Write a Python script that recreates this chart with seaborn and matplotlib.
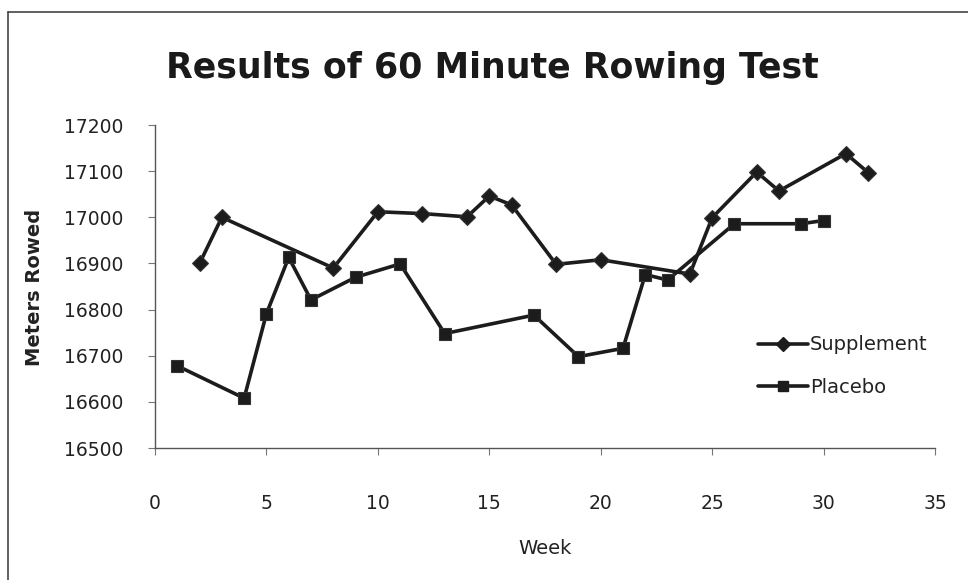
import matplotlib
matplotlib.use("Agg")
import matplotlib.pyplot as plt
import seaborn as sns
import pandas as pd
from matplotlib.lines import Line2D

# Weekly 60-minute rowing distances (meters)
supp_weeks = [2, 3, 8, 10, 12, 14, 15, 16, 18, 20, 24, 25, 27, 28, 31, 32]
supp_meters = [16900, 17000, 16890, 17012, 17008, 17001, 17046, 17027,
               16898, 16908, 16877, 16999, 17098, 17057, 17138, 17097]

plac_weeks = [1, 4, 5, 6, 7, 9, 11, 13, 17, 19, 21, 22, 23, 26, 29, 30]
plac_meters = [16678, 16608, 16791, 16913, 16821, 16870, 16899, 16748,
               16788, 16698, 16716, 16876, 16864, 16986, 16986, 16993]

x_ticks = [0, 5, 10, 15, 20, 25, 30, 35]
y_ticks = [16500, 16600, 16700, 16800, 16900, 17000, 17100, 17200]

df = pd.concat([
    pd.DataFrame({"Week": supp_weeks, "Meters": supp_meters, "Group": "Supplement"}),
    pd.DataFrame({"Week": plac_weeks, "Meters": plac_meters, "Group": "Placebo"}),
])

sns.set_theme(style="white")
plt.rcParams["font.family"] = ["DejaVu Sans"]

ink = "#1c1c1c"
fig = plt.figure(figsize=(9.68, 5.8), dpi=100)
ax = fig.add_axes([155 / 968, 1 - 448 / 580, 780 / 968, 323 / 580])

sns.lineplot(
    data=df, x="Week", y="Meters", hue="Group", style="Group",
    palette={"Supplement": ink, "Placebo": ink},
    markers={"Supplement": "D", "Placebo": "s"},
    dashes=False, linewidth=2.6, markersize=8.5, markeredgewidth=0.8,
    markeredgecolor="#333333", sort=False, legend=False, ax=ax,
)

ax.set_xlim(0, 35)
ax.set_ylim(16500, 17200)
ax.set_xticks(x_ticks)
ax.set_yticks(y_ticks)
ax.set_xticklabels([str(t) for t in x_ticks])
ax.set_yticklabels([str(t) for t in y_ticks])

for side in ("top", "right"):
    ax.spines[side].set_visible(False)
for side in ("left", "bottom"):
    ax.spines[side].set_color("#555555")
    ax.spines[side].set_linewidth(1.0)

ax.tick_params(axis="x", direction="out", length=5, width=0.8, color="#777777",
               pad=28, labelsize=13.5, labelcolor="#222222", bottom=True)
ax.tick_params(axis="y", direction="out", length=5, width=0.8, color="#777777",
               pad=18, labelsize=13.5, labelcolor="#222222", left=True)
ax.grid(False)

ax.set_xlabel("")
ax.set_ylabel("")
fig.text(545 / 968, 1 - 548 / 580, "Week", ha="center", va="center",
         fontsize=14, color="#222222")
fig.text(35 / 968, 1 - 287 / 580, "Meters Rowed", ha="center", va="center",
         rotation=90, fontsize=14, fontweight="bold", color="#222222")
fig.text(492 / 968, 1 - 68 / 580, "Results of 60 Minute Rowing Test",
         ha="center", va="center", fontsize=25, fontweight="bold", color="#1a1a1a")

handles = [
    Line2D([], [], color=ink, lw=2.6, marker="D", markersize=7, label="Supplement"),
    Line2D([], [], color=ink, lw=2.6, marker="s", markersize=7, label="Placebo"),
]
fig.legend(handles=handles, loc="center left",
           bbox_to_anchor=(740 / 968, 1 - 366 / 580), frameon=False,
           fontsize=14, handlelength=2.6, handletextpad=0.1, labelspacing=1.2,
           labelcolor="#222222")

# Chart border
fig.add_artist(Line2D([8 / 968, 8 / 968], [0, 1 - 12 / 580], transform=fig.transFigure,
                      color="#444444", lw=1.2))
fig.add_artist(Line2D([8 / 968, 1], [1 - 12 / 580, 1 - 12 / 580], transform=fig.transFigure,
                      color="#444444", lw=1.2))

fig.savefig("out.png", dpi=100, facecolor="white")
